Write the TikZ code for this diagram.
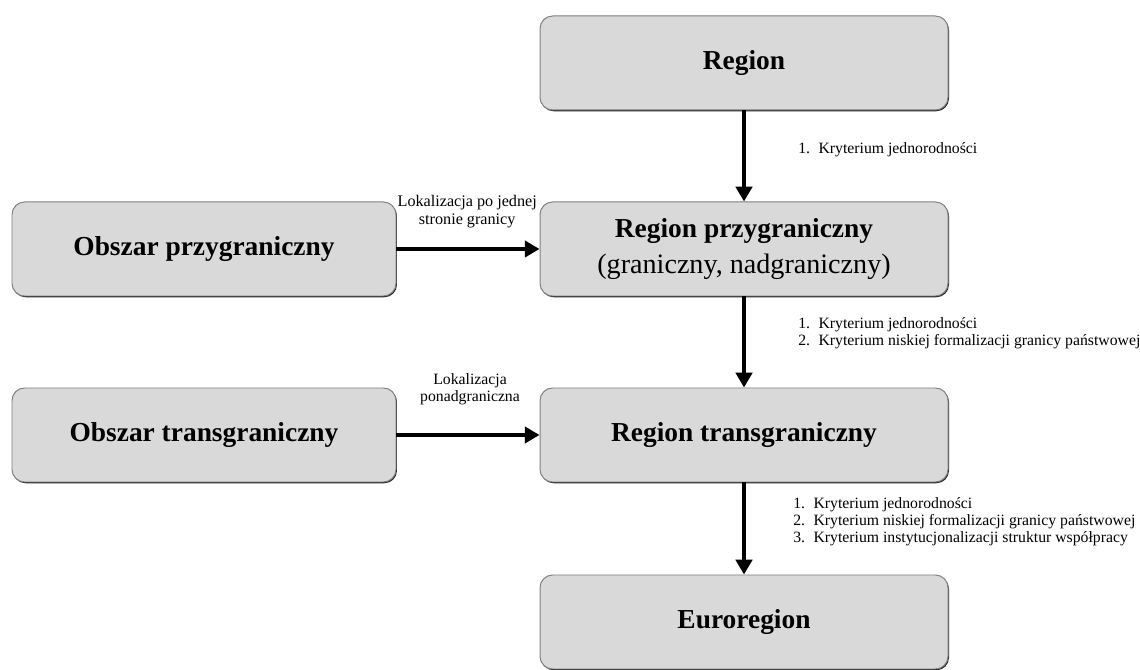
\documentclass[tikz,border=0pt]{standalone}
\usepackage{fontspec}
\setmainfont{Liberation Serif}
\usetikzlibrary{arrows.meta,shadows}
\definecolor{boxgray}{HTML}{D9D9D9}
\tikzset{
  box/.style={rectangle, rounded corners=9pt, fill=boxgray, draw=black!50, line width=0.7pt,
    minimum height=2.35cm, align=center, font=\bfseries\fontsize{19.5}{24}\selectfont,
    drop shadow={shadow xshift=0.7pt, shadow yshift=-0.9pt, fill=black!85, opacity=1}},
  bigbox/.style={box, minimum width=10.2cm},
  sidebox/.style={box, minimum width=9.6cm},
  flow/.style={line width=2.85pt, -{Triangle[length=10.5pt,width=11.5pt]}},
  crit/.style={font=\fontsize{11.2}{12.2}\selectfont, inner sep=0pt},
}
\begin{document}
\begin{tikzpicture}
\useasboundingbox (0,0) rectangle (28.5,16.75);
\node[bigbox] (region) at (18.6,15.175) {Region};
\node[bigbox] (przyg) at (18.6,10.525) {Region przygraniczny\\[2pt]{\mdseries\fontsize{20}{24}\selectfont(graniczny, nadgraniczny)}};
\node[bigbox] (trans) at (18.6,5.875) {Region transgraniczny};
\node[bigbox] (euro) at (18.6,1.2) {Euroregion};
\node[sidebox] (obprzyg) at (5.1,10.525) {Obszar przygraniczny};
\node[sidebox] (obtrans) at (5.1,5.875) {Obszar transgraniczny};
% pionowe strzalki
\draw[flow] (region) -- (przyg);
\draw[flow] (przyg) -- (trans);
\draw[flow] (trans) -- (euro);
% poziome strzalki
\draw[flow] (obprzyg) -- (przyg);
\draw[flow] (obtrans) -- (trans);
% kryteria
\node[crit, anchor=west] (kryt1) at (19.95,13.0) {\begin{tabular}{@{}l@{\hspace{6pt}}l@{}}1. & Kryterium jednorodności\end{tabular}};
\node[crit, anchor=west] (kryt2) at (19.95,8.4) {\begin{tabular}{@{}l@{\hspace{6pt}}l@{}}1. & Kryterium jednorodności\\ 2. & Kryterium niskiej formalizacji granicy państwowej\end{tabular}};
\node[crit, anchor=west] (kryt3) at (19.825,3.7) {\begin{tabular}{@{}l@{\hspace{6pt}}l@{}}1. & Kryterium jednorodności\\ 2. & Kryterium niskiej formalizacji granicy państwowej\\ 3. & Kryterium instytucjonalizacji struktur współpracy\end{tabular}};
% lokalizacja
\node[crit, align=center, font=\fontsize{11.5}{12.4}\selectfont] (lok1) at (11.68,11.46) {Lokalizacja po jednej\\stronie granicy};
\node[crit, align=center] (lok2) at (11.75,7.025) {Lokalizacja\\ponadgraniczna};
\end{tikzpicture}
\end{document}
